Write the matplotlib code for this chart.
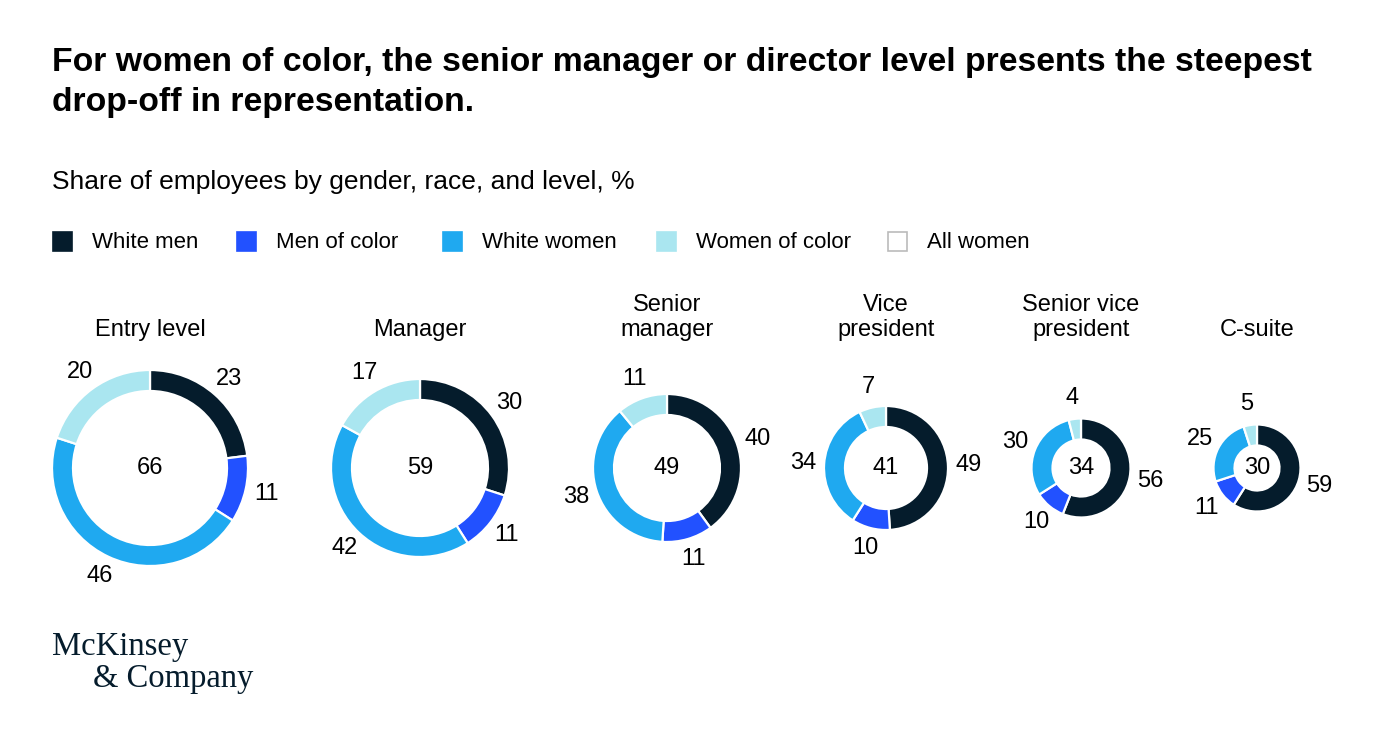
import matplotlib
matplotlib.use("Agg")
import matplotlib.pyplot as plt
from matplotlib.patches import Rectangle
import numpy as np

W, H = 1398, 744

levels = ["Entry level", "Manager", "Senior\nmanager", "Vice\npresident", "Senior vice\npresident", "C-suite"]
white_men = [23, 30, 40, 49, 56, 59]
men_of_color = [11, 11, 11, 10, 10, 11]
white_women = [46, 42, 38, 34, 30, 25]
women_of_color = [20, 17, 11, 7, 4, 5]
all_women = [66, 59, 49, 41, 34, 30]

series_names = ["White men", "Men of color", "White women", "Women of color", "All women"]
colors = ["#051C2C", "#2251FF", "#1FA9F0", "#AAE6F0", "#FFFFFF"]

# layout (pixels)
centers_x = [150, 420, 667, 886, 1081, 1257]
radii = [98, 89, 74, 62, 49.5, 43.5]
ring_w = 21
cy = 468

FONT = "Liberation Sans"
TXT = "#000000"

fig = plt.figure(figsize=(W / 100, H / 100), dpi=100)
ax = fig.add_axes([0, 0, 1, 1])

def Y(y):
    return H - y

for i in range(len(levels)):
    vals = [white_men[i], men_of_color[i], white_women[i], women_of_color[i]]
    cx = centers_x[i]
    r = radii[i]
    ax.pie(vals, colors=colors[:4], startangle=90, counterclock=False,
           center=(cx, Y(cy)), radius=r,
           wedgeprops=dict(width=ring_w, edgecolor="white", linewidth=1.6))
    cum = 0
    for v in vals:
        mid = cum + v / 2
        ang = np.deg2rad(90 - 360 * mid / sum(vals))
        lr = r + 21
        ax.text(cx + lr * np.cos(ang), Y(cy) + lr * np.sin(ang), str(v),
                ha="center", va="center", fontsize=17, family=FONT, color=TXT)
        cum += v
    ax.text(cx, Y(cy), str(all_women[i]), ha="center", va="center",
            fontsize=17, family=FONT, color=TXT)
    ax.text(cx, Y(336), levels[i], ha="center", va="baseline", fontsize=17,
            family=FONT, color=TXT, linespacing=1.2)

ax.set_xlim(0, W)
ax.set_ylim(0, H)
ax.set_aspect("equal")
ax.axis("off")

# title & subtitle
fig.text(52 / W, 1 - 47 / H, "For women of color, the senior manager or director level presents the steepest\ndrop-off in representation.",
         ha="left", va="top", fontsize=24.3, fontweight="bold", family=FONT,
         color=TXT, linespacing=1.36)
fig.text(52 / W, 1 - 182 / H, "Share of employees by gender, race, and level, %",
         ha="left", va="center", fontsize=19, family=FONT, color=TXT)

# legend
leg_x = [52, 236, 442, 656, 887]
for nm, c, lx in zip(series_names, colors, leg_x):
    ec = "#BBBBBB" if c == "#FFFFFF" else c
    ax.add_patch(Rectangle((lx + 0.5, Y(251)), 19, 19, facecolor=c, edgecolor=ec, linewidth=1.2))
    ax.text(lx + 40, Y(242), nm, ha="left", va="center", fontsize=16, family=FONT, color=TXT)

# logo
fig.text(52 / W, 1 - 647 / H, "McKinsey", ha="left", va="center",
         fontsize=23.5, family="Liberation Serif", color="#051C2C")
fig.text(93 / W, 1 - 679 / H, "& Company", ha="left", va="center",
         fontsize=23.5, family="Liberation Serif", color="#051C2C")

fig.savefig("out.png", dpi=100, facecolor="white")
